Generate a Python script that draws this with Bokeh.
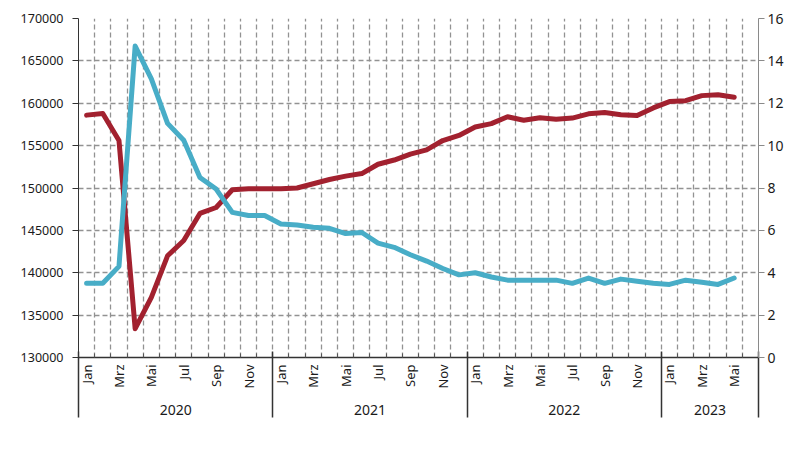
import math
import numpy as np
from bokeh.plotting import figure
from bokeh.models import (Range1d, LinearAxis, FixedTicker, Legend, LegendItem, Grid,
                          NumeralTickFormatter, ColumnDataSource)
from bokeh.embed import file_html
from bokeh.resources import INLINE

# ---------------- data ----------------
month_names = ["Jan", "Feb", "Mrz", "Apr", "Mai", "Jun", "Jul", "Aug", "Sep", "Okt", "Nov", "Dez"]
years = ["2020", "2021", "2022", "2023"]
months_in_year = [12, 12, 12, 5]          # data months per year (2023: Jan-Mai)
axis_months_in_year = [12, 12, 12, 6]      # months shown on the axis (through Jun 2023)
labelled_months = ["Jan", "Mrz", "Mai", "Jul", "Sep", "Nov"]

beschaeftigte = [158600, 158800, 155600, 133400, 137100, 142000, 143800, 147000, 147700, 149800, 149900, 149900,
                 149900, 150000, 150500, 151000, 151400, 151700, 152800, 153300, 154000, 154500, 155600, 156200,
                 157200, 157600, 158400, 158000, 158300, 158100, 158250, 158750, 158900, 158650, 158550, 159450,
                 160200, 160300, 160900, 161000, 160700]
arbeitslosenquote = [3.5, 3.5, 4.3, 14.7, 13.15, 11.05, 10.25, 8.5, 7.95, 6.85, 6.7, 6.7,
                     6.3, 6.25, 6.15, 6.1, 5.85, 5.9, 5.4, 5.2, 4.85, 4.55, 4.2, 3.9,
                     4.0, 3.8, 3.65, 3.65, 3.65, 3.65, 3.5, 3.75, 3.5, 3.7, 3.6, 3.5,
                     3.45, 3.65, 3.55, 3.45, 3.75]

left_ticks = list(range(130000, 170001, 5000))
right_ticks = list(range(0, 17, 2))

RED = "#a2212f"
BLUE = "#48adc7"
FONT = "Noto Sans"
TXT = "#1a1a1a"

# ---------------- derived positions ----------------
n_axis = sum(axis_months_in_year)
x = np.arange(len(beschaeftigte)) + 0.5
boundaries = list(range(n_axis + 1))
year_starts = [int(v) for v in np.cumsum([0] + axis_months_in_year)]
year_centers = [(year_starts[i] + year_starts[i + 1]) / 2 for i in range(len(years))]

month_ticks, month_over = [], {}
for yi, cnt in enumerate(axis_months_in_year):
    for m in range(cnt):
        if month_names[m] in labelled_months:
            t = year_starts[yi] + m + 0.5
            month_ticks.append(t)
            month_over[t] = month_names[m]

src = ColumnDataSource(dict(x=x, b=beschaeftigte, q=arbeitslosenquote))

p = figure(frame_width=680, frame_height=339, x_range=Range1d(0, n_axis),
           y_range=Range1d(left_ticks[0], left_ticks[-1]),
           x_axis_type=None, output_backend="svg", toolbar_location=None,
           min_border_left=78, min_border_right=33, min_border_top=18, min_border_bottom=96)
p.outline_line_color = None
p.extra_y_ranges = {"rate": Range1d(right_ticks[0], right_ticks[-1])}

# left axis
ya = p.yaxis[0]
ya.ticker = FixedTicker(ticks=left_ticks)
ya.formatter = NumeralTickFormatter(format="0")
ya.axis_line_color = "#333333"
ya.major_tick_line_color = "#333333"
ya.major_tick_out = 6
ya.major_tick_in = 0
ya.minor_tick_line_color = None
ya.major_label_text_font = FONT
ya.major_label_text_font_size = "12.5px"
ya.major_label_text_color = TXT
ya.major_label_standoff = 9

# right axis
ra = LinearAxis(y_range_name="rate", ticker=FixedTicker(ticks=right_ticks))
ra.axis_line_color = "#8a8a8a"
ra.major_tick_line_color = "#8a8a8a"
ra.major_tick_out = 6
ra.major_tick_in = 0
ra.minor_tick_line_color = None
ra.major_label_text_font = FONT
ra.major_label_text_font_size = "14px"
ra.major_label_text_color = TXT
ra.major_label_standoff = 3
p.add_layout(ra, "right")

# grids
p.ygrid.grid_line_color = "#929292"
p.ygrid.grid_line_dash = "5 3"
p.ygrid.grid_line_width = 1.3
xg = Grid(dimension=0, ticker=FixedTicker(ticks=boundaries[1:-1]),
          grid_line_color="#929292", grid_line_dash="5 3", grid_line_width=1.3)
p.add_layout(xg)

# month axis
ma = LinearAxis(ticker=FixedTicker(ticks=month_ticks, minor_ticks=boundaries),
                major_label_overrides=month_over)
ma.major_label_orientation = math.pi / 2
ma.axis_line_color = "#333333"
ma.axis_line_width = 1.5
ma.major_tick_line_color = None
ma.major_tick_in = 0
ma.major_tick_out = 0
ma.minor_tick_line_color = "#555555"
ma.minor_tick_in = 4
ma.minor_tick_out = 0
ma.major_label_text_font = FONT
ma.major_label_text_font_size = "13px"
ma.major_label_text_color = TXT
ma.major_label_standoff = 7
p.add_layout(ma, "below")

# year axis (labels only)
ya2 = LinearAxis(ticker=FixedTicker(ticks=year_centers),
                 major_label_overrides={c: yname for c, yname in zip(year_centers, years)})
ya2.axis_line_color = None
ya2.major_tick_line_color = None
ya2.minor_tick_line_color = None
ya2.major_tick_in = 0
ya2.major_tick_out = 0
ya2.minor_tick_in = 0
ya2.minor_tick_out = 0
ya2.major_label_text_font = FONT
ya2.major_label_text_font_size = "14px"
ya2.major_label_text_color = TXT
ya2.major_label_standoff = 13
p.add_layout(ya2, "below")

# separator axis (year boundaries, drawn upward to the frame)
sep = LinearAxis(ticker=FixedTicker(ticks=[], minor_ticks=[float(v) for v in year_starts]))
sep.axis_line_color = None
sep.major_tick_line_color = None
sep.major_tick_in = 0
sep.major_tick_out = 0
sep.minor_tick_line_color = "#333333"
sep.minor_tick_line_width = 1.5
sep.minor_tick_in = 66
sep.minor_tick_out = 0
sep.major_label_standoff = 0
sep.major_label_text_font_size = "1px"
sep.major_label_text_color = None
p.add_layout(sep, "below")

# lines
r1 = p.line("x", "b", source=src, line_color=RED, line_width=5, line_join="round", line_cap="round")
r2 = p.line("x", "q", source=src, y_range_name="rate", line_color=BLUE, line_width=5,
            line_join="round", line_cap="round")

legend = Legend(items=[LegendItem(label="Beschäftigte (Tausend Personen)", renderers=[r1]),
                       LegendItem(label="Arbeitslosenquote in % (rechte Achse)", renderers=[r2])],
                orientation="horizontal", location=(20, 3))
legend.border_line_color = None
legend.background_fill_alpha = 0
legend.glyph_width = 55
legend.glyph_height = 16
legend.label_standoff = 4
legend.spacing = 45
legend.padding = 1
legend.margin = 3
legend.label_text_font = FONT
legend.label_text_font_size = "13px"
legend.label_text_color = TXT
p.add_layout(legend, "below")

open("out.html", "w").write(file_html(p, INLINE))
